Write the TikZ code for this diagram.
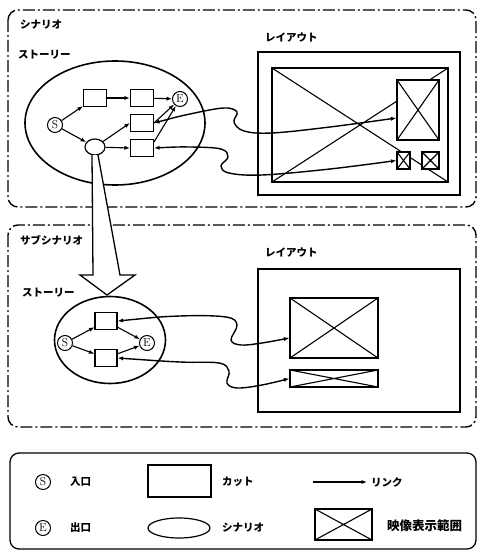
\documentclass[tikz,border=0pt]{standalone}
\usepackage{fontspec}
\newfontfamily\jp{Noto Sans CJK JP}
\usetikzlibrary{arrows.meta,shapes.geometric}
\begin{document}
\begin{tikzpicture}[x=1pt,y=-1pt,
  lbl/.style={font=\jp\bfseries\fontsize{10.5}{12}\selectfont, anchor=west, inner sep=0},
  frame/.style={line width=1.4pt, dash pattern=on 12pt off 3pt on 2pt off 3pt, rounded corners=10pt},
  legendframe/.style={line width=1.3pt, rounded corners=9pt},
  cut/.style={draw, fill=white, line width=1.1pt, minimum width=23pt, minimum height=17pt, inner sep=0},
  term/.style={draw, circle, line width=1pt, minimum size=15pt, inner sep=0, font=\fontsize{11.5}{11.5}\selectfont},
  story/.style={draw, ellipse, line width=1.6pt, inner sep=0},
  scen/.style={draw, ellipse, fill=white, line width=1.2pt, inner sep=0},
  rect/.style={draw, line width=1.4pt, inner sep=0},
  tip/.tip={Latex[length=5.5pt,width=4.2pt]},
  lk/.style={-tip, line width=1.1pt},
  dlk/.style={tip-tip, line width=1.4pt},
  xbox/.style={draw, fill=white, line width=1.2pt, inner sep=0,
    path picture={\draw[line width=1.1pt] (path picture bounding box.north west) -- (path picture bounding box.south east)
      (path picture bounding box.south west) -- (path picture bounding box.north east);}},
]
\useasboundingbox (0,0) rectangle (479,551);

% frames
\draw[frame] (8,10) rectangle (476,207);
\draw[frame] (8,225) rectangle (476,427);
\draw[legendframe] (10,453) rectangle (476,549);

% labels
\node[lbl] (t-scen) at (20,25) {シナリオ};
\node[lbl] (t-story1) at (18,55) {ストーリー};
\node[lbl] (t-lay1) at (265,38) {レイアウト};
\node[lbl] (t-sub) at (20,240) {サブシナリオ};
\node[lbl] (t-story2) at (22,293) {ストーリー};
\node[lbl] (t-lay2) at (265,253) {レイアウト};

% top story
\node[story, minimum width=180pt, minimum height=124pt] (st1) at (115,123) {};
\node[term] (s1) at (55,125) {S};
\node[cut] (b1) at (95,98) {};
\node[cut] (b2) at (142,98) {};
\node[term] (e1) at (180,99) {E};
\node[cut] (b3) at (142,123) {};
\node[cut] (b4) at (142,148) {};
\node[scen, minimum width=20pt, minimum height=16pt] (sc) at (95,147) {};
\draw[lk] (s1) -- (b1);
\draw[lk] (s1) -- (sc);
\draw[lk] (b1) -- (b2);
\draw[lk] (b2) -- (e1);
\draw[lk] (sc) -- (b3.west);
\draw[lk] (sc) -- (b4.west);
\draw[lk] (b3.east) -- (e1);
\draw[lk] ([yshift=-3pt]b4.north east) -- (e1);

% hollow arrow
\draw[line width=1.3pt, fill=white, line join=miter]
  (92,155) -- (93,275) -- (80,275) -- (107,295) -- (135,275) -- (120,275) -- (98,155);

% bottom story
\node[story, minimum width=111pt, minimum height=87pt] (st2) at (110,340) {};
\node[term] (s2) at (65,343) {S};
\node[cut, minimum width=22pt] (c1) at (106,321) {};
\node[cut, minimum width=22pt] (c2) at (106,358) {};
\node[term] (e2) at (147,343) {E};
\draw[lk] (s2) -- (c1);
\draw[lk] (s2) -- (c2);
\draw[lk] (c1) -- (e2);
\draw[lk] (c2) -- (e2);

% top layout
\node[rect, minimum width=202pt, minimum height=143pt] (L1) at (359,123.5) {};
\node[xbox, minimum width=176pt, minimum height=114pt] (in1) at (360,125) {};
\node[xbox, minimum width=42pt, minimum height=60pt] (t1) at (418,110) {};
\node[xbox, minimum width=13pt, minimum height=17pt] (sa) at (403.5,160.5) {};
\node[xbox, minimum width=17pt, minimum height=17pt] (sb) at (430.5,160.5) {};

% bottom layout
\node[rect, minimum width=202pt, minimum height=143pt] (L2) at (359,340.5) {};
\node[xbox, minimum width=88pt, minimum height=60pt] (ib1) at (334,328) {};
\node[xbox, minimum width=88pt, minimum height=17pt] (ib2) at (334,378.5) {};

% links
\draw[dlk] plot[smooth, tension=0.6] coordinates {(b3.east) (190,114) (224,108) (237,112) (234,122) (244,131) (272,133) (330,127) ([yshift=-8pt]t1.west)};
\draw[dlk] plot[smooth, tension=0.6] coordinates {(b4.east) (190,147) (221,149) (228,157) (221,166) (229,173) (262,175) (330,169) (sa.west)};
\draw[dlk] plot[smooth, tension=0.6] coordinates {(c1.east) (180,316) (226,317) (237,325) (231,340) (241,345) (262,343) ([yshift=-10pt]ib1.west)};
\draw[dlk] plot[smooth, tension=0.6] coordinates {(c2.east) (180,362) (219,363) (229,371) (227,383) (237,388) (262,385) (ib2.west)};

% legend
\node[term] (ls) at (43,482) {S};
\node[lbl] (t-in) at (70,482) {入口};
\node[cut, minimum width=63pt, minimum height=32pt] (lc) at (179.5,481) {};
\node[lbl] (t-cut) at (222,482) {カット};
\coordinate (la) at (313,482);
\coordinate (lb) at (367,482);
\draw[lk, line width=1.4pt] (la) -- (lb);
\node[lbl] (t-link) at (371,482) {リンク};
\node[term] (le) at (43,528) {E};
\node[lbl] (t-out) at (70,528) {出口};
\node[scen, minimum width=62pt, minimum height=20pt] (lel) at (179,528) {};
\node[lbl] (t-sc) at (222,528) {シナリオ};
\node[xbox, minimum width=57pt, minimum height=31pt] (lx) at (343.5,524.5) {};
\node[lbl, font=\jp\bfseries\fontsize{12.5}{14}\selectfont] (t-img) at (387,526) {映像表示範囲};
\end{tikzpicture}
\end{document}
